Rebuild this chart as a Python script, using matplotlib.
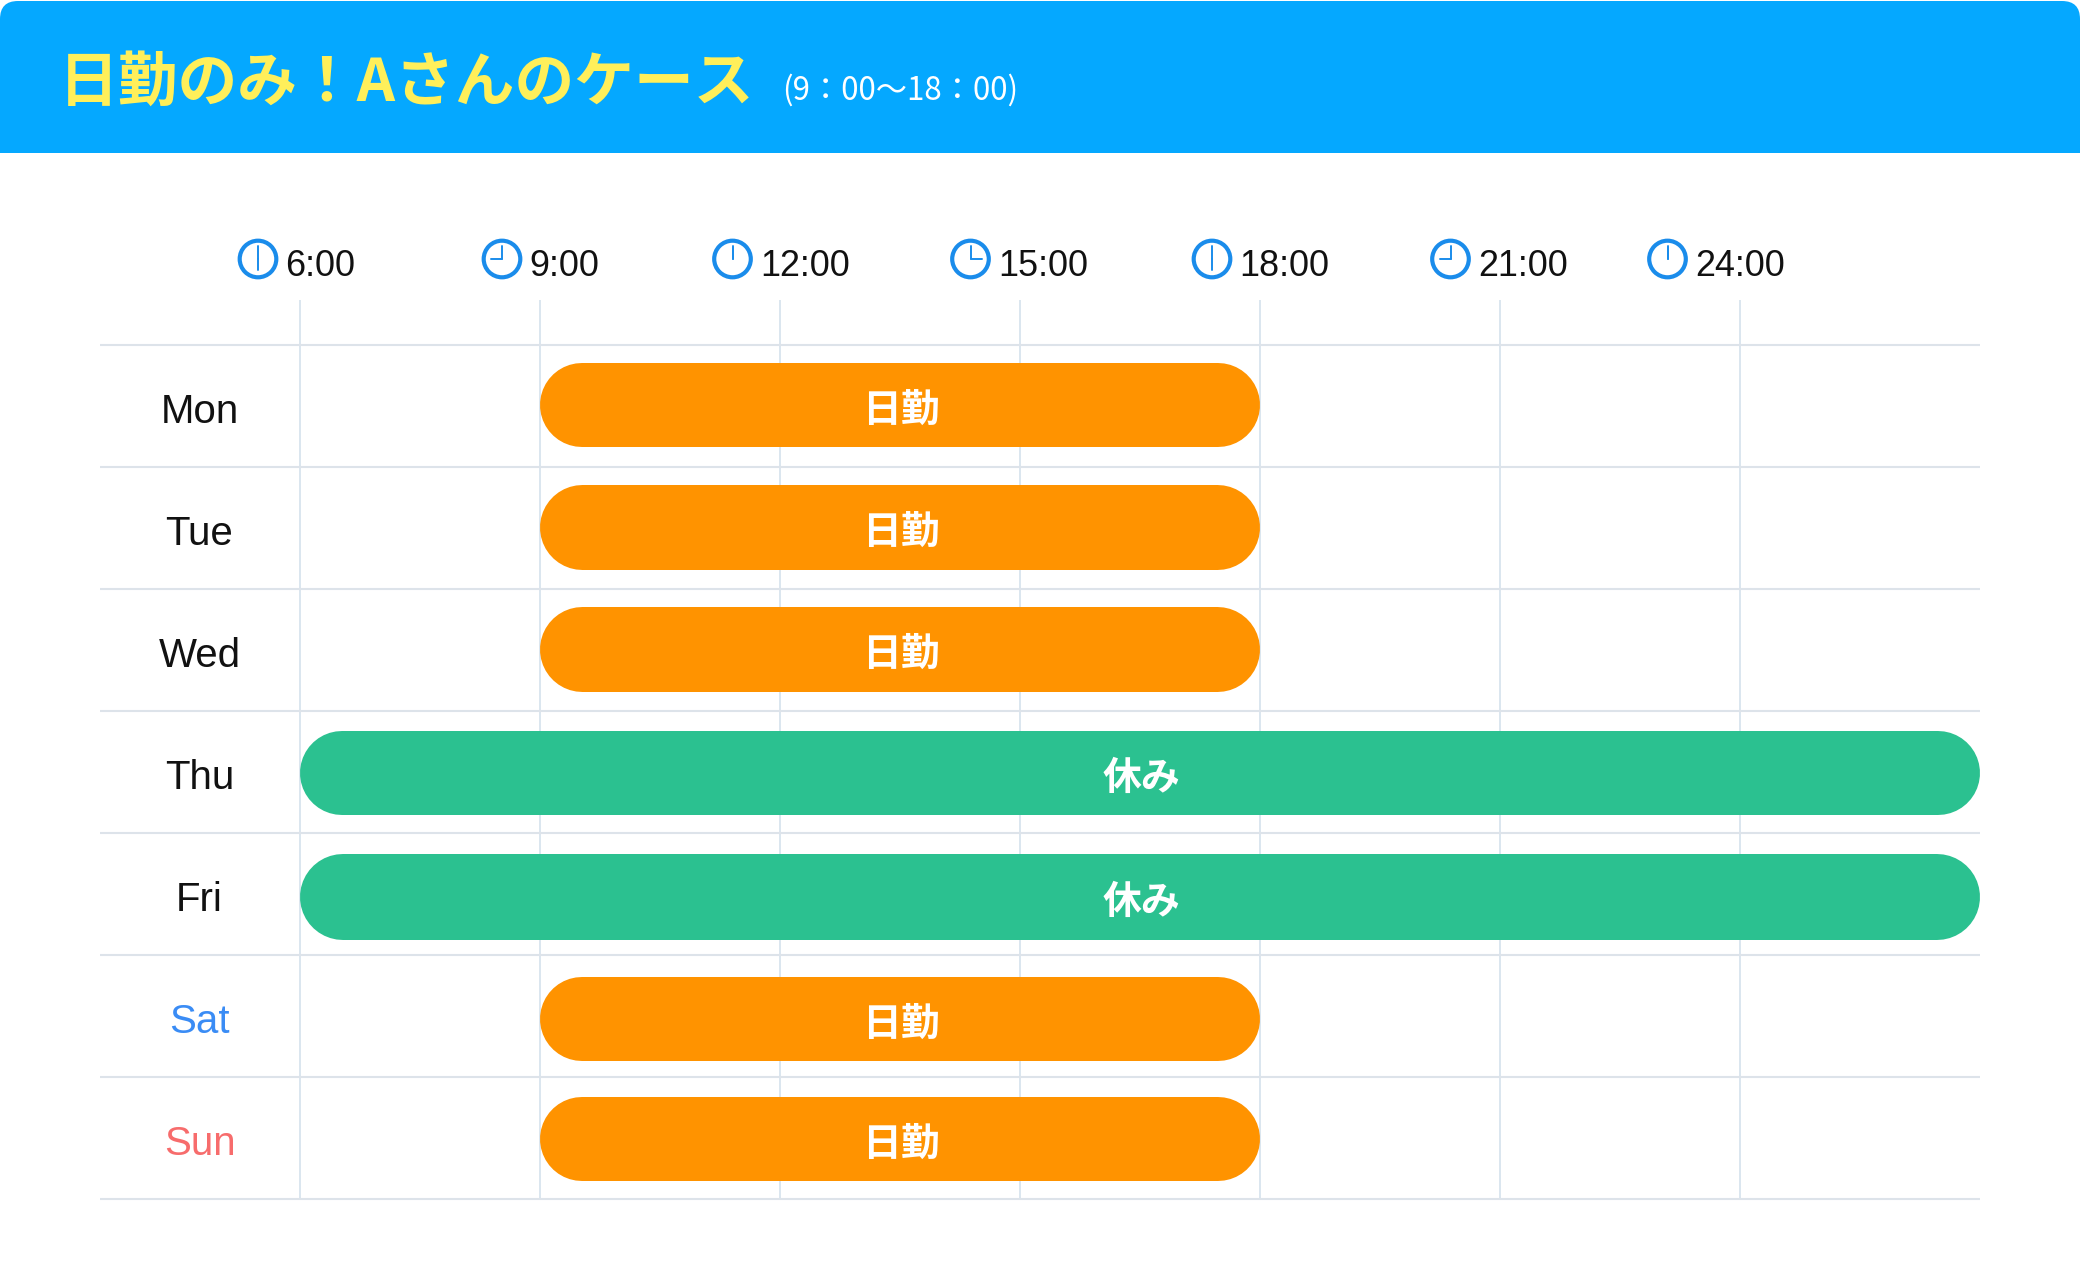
import matplotlib
matplotlib.use('Agg')
import matplotlib.pyplot as plt
from matplotlib.patches import Circle, FancyBboxPatch, Rectangle
import numpy as np

plt.rcParams['font.family'] = ['Liberation Sans', 'Noto Sans CJK JP', 'DejaVu Sans']

# данные
days = ['Mon', 'Tue', 'Wed', 'Thu', 'Fri', 'Sat', 'Sun']
day_colors = ['#111111', '#111111', '#111111', '#111111', '#111111', '#3A8CF5', '#F76C6C']
shift_start = [9, 9, 9, 6, 6, 9, 9]
shift_end = [18, 18, 18, 27, 27, 18, 18]
shift_names = ['日勤', '日勤', '日勤', '休み', '休み', '日勤', '日勤']
hours = [6, 9, 12, 15, 18, 21, 24]
hour_labels = ['6:00', '9:00', '12:00', '15:00', '18:00', '21:00', '24:00']
title = '日勤のみ！Aさんのケース'
subtitle = '(9：00〜18：00)'

# расположение
clock_x = [258, 502, 732.5, 970.5, 1212, 1450.5, 1667.5]
bar_shift = [-1, -0.5, -0.5, 1, 3, 3, 1]
bar_px = [84, 85, 85, 84, 86, 84, 84]
shift_colors = {'日勤': '#FF9300', '休み': '#2BC190'}
W, H = 2080, 1279
px_hour, px_row = 80, 122
x0_px, y0_px = 300, 345

fig = plt.figure(figsize=(W / 100, H / 100), dpi=100, facecolor='white')

# основная сетка: x в часах, y в строках
ax = fig.add_axes([0, 0, 1, 1])
ax.set_xlim(6 - x0_px / px_hour, 6 + (W - x0_px) / px_hour)
ax.set_ylim((H - y0_px) / px_row, -y0_px / px_row)
ax.axis('off')

ax.vlines(hours, (300 - y0_px) / px_row, len(days), color='#D8E4EE', lw=1.3, zorder=1)
left_end = 6 - (x0_px - 100) / px_hour
ax.hlines(np.arange(len(days) + 1), left_end, 27, color='#DDE3EA', lw=1.5, zorder=2)

for i in range(len(days)):
    y = i + 0.5 + bar_shift[i] / px_row
    r_x = bar_px[i] / 2 / px_hour
    color = shift_colors[shift_names[i]]
    # толстая линия с круглыми концами = пилюля
    ax.plot([shift_start[i] + r_x, shift_end[i] - r_x], [y, y], color=color,
            lw=bar_px[i] * 0.72, solid_capstyle='round', snap=False, zorder=3)
    ax.text((shift_start[i] + shift_end[i]) / 2 + 1 / px_hour, y + 5 / px_row, shift_names[i],
            color='white', fontsize=28, fontweight='bold', ha='center', va='center',
            family=['Noto Sans CJK JP', 'DejaVu Sans'], zorder=4)
    ax.text(6 - 100.5 / px_hour, i + 0.5 + 6 / px_row, days[i], color=day_colors[i],
            fontsize=29, ha='center', va='center', zorder=4)

# шапка и часы в пикселях
top = fig.add_axes([0, 0, 1, 1])
top.set_xlim(0, W)
top.set_ylim(H, 0)
top.axis('off')
top.patch.set_alpha(0)

top.add_patch(FancyBboxPatch((0, 1), W, 200, boxstyle='round,pad=0,rounding_size=18',
                             fc='#05A8FF', ec='none'))
top.add_patch(Rectangle((0, 40), W, 113, fc='#05A8FF', ec='none'))
top.add_patch(Rectangle((0, 153), W, 60, fc='white', ec='none'))

top.text(59, 84, title, color='#FFEF5A', fontsize=43, fontweight='bold', va='center',
         family=['Noto Sans CJK JP', 'DejaVu Sans'])
top.text(782, 90, subtitle, color='white', fontsize=22.5, va='center',
         family=['Noto Sans CJK JP', 'DejaVu Sans'])

clock_blue = '#1A8CEB'
for h, label, cx in zip(hours, hour_labels, clock_x):
    cy = 259
    top.add_patch(Circle((cx, cy), 18.3, fc='white', ec=clock_blue, lw=3))
    # минутная стрелка всегда вверх, часовая по времени
    top.plot([cx, cx], [cy, cy - 13], color=clock_blue, lw=1.4, solid_capstyle='round')
    ang = np.deg2rad((h % 12) * 30)
    top.plot([cx, cx + 11 * np.sin(ang)], [cy, cy - 11 * np.cos(ang)],
             color=clock_blue, lw=1.4, solid_capstyle='round')
    top.text(cx + 27.5, 275.5, label, color='#111111', fontsize=25.9, ha='left', va='baseline')

fig.savefig('out.png', dpi=100)
